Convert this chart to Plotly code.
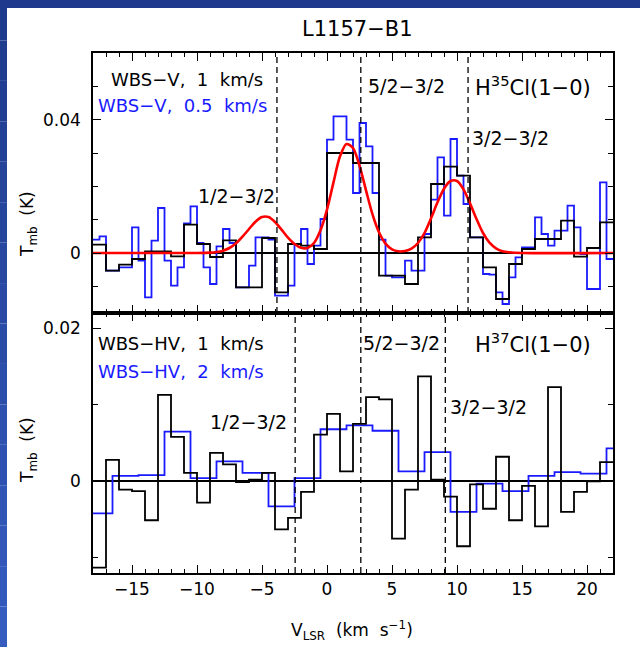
import plotly.graph_objects as go

# ---------------- data ----------------
X_RANGE = [-18, 22]

# Top panel: H35Cl, WBS-V 1 km/s (black), channel left edges -18..21
top_black_start, top_black_width = -18.0, 1.0
top_black = [0.0025, -0.0053, -0.0035, -0.0018, 0.0005, 0.0005, -0.0010, 0.0085, 0.0027, -0.0012,
             0.0038, -0.0103, -0.0103, 0.0045, -0.0118, 0.0027, 0.0022, 0.0012, 0.0300, 0.0300,
             0.0270, 0.0270, -0.0068, -0.0068, -0.0093, 0.0047, 0.0207, 0.0259, 0.0232, 0.0047,
             -0.0043, -0.0138, -0.0033, 0.0012, 0.0042, 0.0042, 0.0097, -0.0011, 0.0015, 0.0092]

# Top panel: WBS-V 0.5 km/s (blue), channel left edges -18..21.5
top_blue_start, top_blue_width = -18.0, 0.5
top_blue = [0.0040, 0.0050, -0.0053, -0.0053, -0.0043, -0.0043, 0.0077, -0.0023, -0.0133, 0.0037,
            0.0135, -0.0023, -0.0098, -0.0043, 0.0089, 0.0140, 0.0030, -0.0043, -0.0093, 0.0020,
            0.0072, 0.0030, -0.0103, -0.0103, -0.0038, 0.0047, 0.0047, 0.0040, -0.0128, -0.0128,
            -0.0098, 0.0027, 0.0072, -0.0033, 0.0022, 0.0102, 0.0340, 0.0410, 0.0410, 0.0340,
            0.0180, 0.0390, 0.0320, 0.0180, 0.0040, -0.0068, -0.0073, -0.0073, -0.0023, -0.0053,
            -0.0053, 0.0057, 0.0160, 0.0287, 0.0112, 0.0342, 0.0232, 0.0147, 0.0047, 0.0047,
            -0.0063, -0.0065, -0.0118, -0.0153, -0.0073, -0.0013, 0.0017, 0.0017, 0.0107, 0.0057,
            0.0022, 0.0067, 0.0067, 0.0142, 0.0077, -0.0003, -0.0108, -0.0108, 0.0212, -0.0018]

# Top panel: hyperfine fit (red)
fit_v = [-18, -10, -9, -8.5, -8, -7.5, -7, -6.5, -6, -5.5, -5, -4.5, -4, -3.5, -3, -2.5, -2, -1.5,
         -1, -0.5, 0, 0.5, 1, 1.5, 2, 2.5, 3, 3.5, 4, 4.5, 5, 5.5, 6, 6.5, 7, 7.5, 8, 8.5, 9, 9.5,
         10, 10.5, 11, 11.5, 12, 12.5, 13, 13.5, 14, 15, 22]
fit_t = [0.0, 0.0, 0.0001, 0.0003, 0.0007, 0.0015, 0.0029, 0.0049, 0.0072, 0.0094, 0.0108, 0.0108,
         0.0093, 0.0070, 0.0046, 0.0027, 0.0016, 0.0015, 0.0030, 0.0068, 0.0130, 0.0212, 0.0290,
         0.0327, 0.0315, 0.0262, 0.0188, 0.0116, 0.0062, 0.0028, 0.0011, 0.0005, 0.0006, 0.0013,
         0.0030, 0.0060, 0.0104, 0.0152, 0.0193, 0.0216, 0.0216, 0.0191, 0.0149, 0.0102, 0.0060,
         0.0031, 0.0014, 0.0005, 0.0002, 0.0, 0.0]

# Bottom panel: H37Cl, WBS-HV 1 km/s (black)
bot_black_start, bot_black_width = -18.0, 1.0
bot_black = [-0.0113, 0.0028, -0.0011, -0.0013, -0.0051, 0.0113, 0.0058, 0.0011, -0.0028, 0.0037,
             0.0022, -0.0001, 0.0002, 0.0011, -0.0063, -0.0048, -0.0014, 0.0061, 0.0088, 0.0013,
             0.0075, 0.0110, 0.0107, -0.0075, -0.0011, 0.0137, 0.0002, -0.0020, -0.0085, -0.0004,
             -0.0036, 0.0032, -0.0051, -0.0006, -0.0059, 0.0123, -0.0040, -0.0014, 0.0000, 0.0025]

# Bottom panel: WBS-HV 2 km/s (blue)
bot_blue_start, bot_blue_width = -18.5, 2.0
bot_blue = [-0.0042, 0.0007, 0.0008, 0.0065, 0.0004, 0.0026, 0.0011, -0.0033, 0.0004, 0.0068,
            0.0073, 0.0066, 0.0013, 0.0038, -0.0040, -0.0003, -0.0013, 0.0007, 0.0012, 0.0010, 0.0043]

# hyperfine component positions (dashed lines)
top_lines = {"1/2−3/2": -3.85, "5/2−3/2": 2.6, "3/2−3/2": 10.85}
bot_lines = {"1/2−3/2": -2.45, "5/2−3/2": 2.6, "3/2−3/2": 9.1}

# ---------------- helpers ----------------
def step_xy(start, width, vals):
    xs = [start + i * width for i in range(len(vals) + 1)]
    ys = list(vals) + [vals[-1]]
    return xs, ys

FONT = "DejaVu Sans"
BLACK = "#000000"
BLUE = "#1a1aff"
RED = "#ff0000"

W, H = 640, 647
ML, MR, MT, MB = 93, 27, 53, 74
PW, PH = W - ML - MR, H - MT - MB

def px2paper(px, py):
    return (px - ML) / PW, (H - MB - py) / PH

fig = go.Figure()

x, y = step_xy(top_blue_start, top_blue_width, top_blue)
fig.add_trace(go.Scatter(x=x, y=y, mode="lines", line=dict(color=BLUE, width=1.8, shape="hv"),
                         xaxis="x", yaxis="y", showlegend=False, hoverinfo="skip"))
x, y = step_xy(top_black_start, top_black_width, top_black)
fig.add_trace(go.Scatter(x=x, y=y, mode="lines", line=dict(color=BLACK, width=1.8, shape="hv"),
                         xaxis="x", yaxis="y", showlegend=False, hoverinfo="skip"))
fig.add_trace(go.Scatter(x=fit_v, y=fit_t, mode="lines",
                         line=dict(color=RED, width=2.6, shape="spline", smoothing=0.8),
                         xaxis="x", yaxis="y", showlegend=False, hoverinfo="skip"))

x, y = step_xy(bot_blue_start, bot_blue_width, bot_blue)
fig.add_trace(go.Scatter(x=x, y=y, mode="lines", line=dict(color=BLUE, width=1.8, shape="hv"),
                         xaxis="x2", yaxis="y2", showlegend=False, hoverinfo="skip"))
x, y = step_xy(bot_black_start, bot_black_width, bot_black)
fig.add_trace(go.Scatter(x=x, y=y, mode="lines", line=dict(color=BLACK, width=1.8, shape="hv"),
                         xaxis="x2", yaxis="y2", showlegend=False, hoverinfo="skip"))

shapes = []
for v in top_lines.values():
    shapes.append(dict(type="line", xref="x", yref="y domain", x0=v, x1=v, y0=0, y1=1,
                       line=dict(color=BLACK, width=1.3, dash="6px,4px")))
for v in bot_lines.values():
    shapes.append(dict(type="line", xref="x2", yref="y2 domain", x0=v, x1=v, y0=0, y1=1,
                       line=dict(color=BLACK, width=1.3, dash="6px,4px")))

# blue slide border (left and top), stepped gradient
n = 16
for i in range(n):
    y0p = H * i / n
    y1p = H * (i + 1) / n
    t = i / (n - 1)
    r = int(0x1e + (0x36 - 0x1e) * t)
    g = int(0x3a + (0x5c - 0x3a) * t)
    b = int(0x8c + (0xc0 - 0x8c) * t)
    x0, ya = px2paper(0, y0p)
    x1, yb = px2paper(7, y1p)
    shapes.append(dict(type="rect", xref="paper", yref="paper", x0=x0, x1=x1, y0=yb, y1=ya,
                       fillcolor=f"rgb({r},{g},{b})", line=dict(width=0), layer="below"))
x0, y0 = px2paper(0, 0)
x1, y1 = px2paper(W, 8)
shapes.append(dict(type="rect", xref="paper", yref="paper", x0=x0, x1=x1, y0=y1, y1=y0,
                   fillcolor="#1f3a8c", line=dict(width=0), layer="below"))

ann = []
def add_text(text, xx, yy, xref, yref, color=BLACK, size=17, xanchor="left", **kw):
    ann.append(dict(text=text, x=xx, y=yy, xref=xref, yref=yref, showarrow=False,
                    font=dict(family=FONT, size=size, color=color), xanchor=xanchor,
                    yanchor="middle", **kw))

# top panel labels
add_text("WBS−V,  1  km/s", -16.8, 0.052, "x", "y", size=18)
add_text("WBS−V,  0.5  km/s", -17.75, 0.0442, "x", "y", color=BLUE, size=18)
add_text("1/2−3/2", -10.1, 0.0172, "x", "y", size=19)
add_text("5/2−3/2", 3.0, 0.0502, "x", "y", size=19)
add_text("H<sup>35</sup>Cl(1−0)", 11.2, 0.0502, "x", "y", size=21)
add_text("3/2−3/2", 11.0, 0.0346, "x", "y", size=19)
# bottom panel labels
add_text("WBS−HV,  1  km/s", -17.8, 0.01796, "x2", "y2", size=18)
add_text("WBS−HV,  2  km/s", -17.8, 0.0143, "x2", "y2", color=BLUE, size=18)
add_text("1/2−3/2", -9.13, 0.0078, "x2", "y2", size=19)
add_text("5/2−3/2", 2.64, 0.0181, "x2", "y2", size=19)
add_text("H<sup>37</sup>Cl(1−0)", 11.2, 0.0181, "x2", "y2", size=21)
add_text("3/2−3/2", 9.33, 0.0097, "x2", "y2", size=19)

# titles
tx, ty = px2paper(357, 29)
add_text("L1157−B1", tx, ty, "paper", "paper", size=21, xanchor="center")
tx, ty = px2paper(352, 630)
add_text("V<sub>LSR</sub>  (km  s<sup>−1</sup>)", tx, ty, "paper", "paper", size=17, xanchor="center")
tx, ty = px2paper(28, 224)
add_text("T<sub>mb</sub>  (K)", tx, ty, "paper", "paper", size=17, xanchor="center", textangle=-90)
tx, ty = px2paper(28, 450)
add_text("T<sub>mb</sub>  (K)", tx, ty, "paper", "paper", size=17, xanchor="center", textangle=-90)

axis_common = dict(showline=True, linecolor=BLACK, linewidth=1.6, mirror="ticks", ticks="inside",
                   tickcolor=BLACK, tickwidth=1.3, showgrid=False,
                   tickfont=dict(family=FONT, size=17, color=BLACK))

fig.update_layout(
    width=W, height=H,
    margin=dict(l=ML, r=MR, t=MT, b=MB, pad=0),
    paper_bgcolor="white", plot_bgcolor="white",
    showlegend=False,
    shapes=shapes, annotations=ann,
    xaxis=dict(domain=[0, 1], anchor="y", range=X_RANGE, dtick=5, tick0=0, ticklen=8,
               showticklabels=False, zeroline=False,
               minor=dict(ticks="inside", dtick=1, tick0=0, ticklen=4, tickcolor=BLACK, tickwidth=1.2),
               **axis_common),
    xaxis2=dict(domain=[0, 1], anchor="y2", range=X_RANGE, dtick=5, tick0=0, ticklen=8,
                showticklabels=True, zeroline=False,
                minor=dict(ticks="inside", dtick=1, tick0=0, ticklen=4, tickcolor=BLACK, tickwidth=1.2),
                **axis_common),
    yaxis=dict(domain=[0.5, 1], anchor="x", range=[-0.018, 0.06], dtick=0.04, tick0=0, ticklen=8,
               zeroline=True, zerolinecolor=BLACK, zerolinewidth=1.5, ticklabelstandoff=7,
               minor=dict(ticks="inside", dtick=0.01, tick0=0, ticklen=5, tickcolor=BLACK, tickwidth=1.2),
               **axis_common),
    yaxis2=dict(domain=[0, 0.5], anchor="x2", range=[-0.012, 0.022], dtick=0.02, tick0=0, ticklen=8,
                zeroline=True, zerolinecolor=BLACK, zerolinewidth=1.5, ticklabelstandoff=7,
                minor=dict(ticks="inside", dtick=0.01, tick0=0, ticklen=5, tickcolor=BLACK, tickwidth=1.2),
                **axis_common),
)

fig.write_html("out.html")
